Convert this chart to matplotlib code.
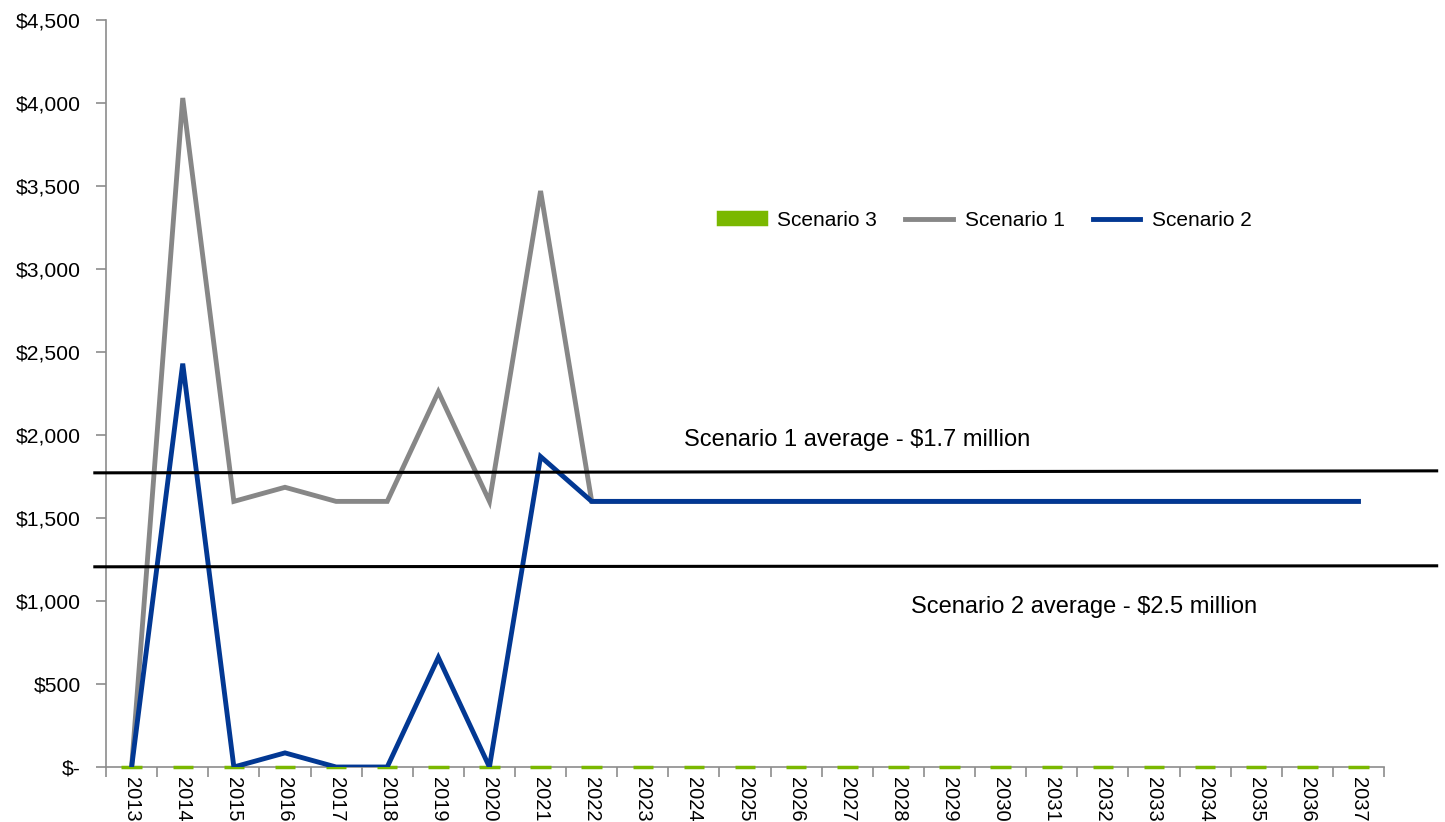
import matplotlib
matplotlib.use("Agg")
import matplotlib.pyplot as plt
import numpy as np
from matplotlib.ticker import FuncFormatter, FixedLocator

plt.rcParams['font.family'] = ['Liberation Sans', 'DejaVu Sans']

years = [str(y) for y in range(2013, 2038)]
scenario_1 = [0, 4030, 1600, 1685, 1600, 1600, 2260, 1600, 3470, 1600,
              1600, 1600, 1600, 1600, 1600, 1600, 1600, 1600, 1600, 1600,
              1600, 1600, 1600, 1600, 1600]
scenario_2 = [0, 2430, 0, 85, 0, 0, 660, 0, 1870, 1600,
              1600, 1600, 1600, 1600, 1600, 1600, 1600, 1600, 1600, 1600,
              1600, 1600, 1600, 1600, 1600]
scenario_3 = [0] * 25

# reference levels (left end, right end)
avg_1_level = [1772, 1784]
avg_2_level = [1206, 1212]
avg_1_label = "Scenario 1 average - $1.7 million"
avg_2_label = "Scenario 2 average - $2.5 million"

GREEN = "#7AB800"
GRAY = "#878787"
BLUE = "#023893"
AXIS = "#8C8C8C"

fig = plt.figure(figsize=(14.45, 8.22), dpi=100)
ax = fig.add_axes([0.0734, 0.0669, 0.9578 - 0.0734, 0.9757 - 0.0669])

x = np.arange(len(years))
bars = ax.bar(x, scenario_3, width=0.4, color=GREEN, edgecolor=GREEN,
              linewidth=2.5, label="Scenario 3", zorder=2.6, clip_on=False)
l1, = ax.plot(x, scenario_1, color=GRAY, lw=3.5, label="Scenario 1",
              zorder=3, solid_joinstyle='miter')
l2, = ax.plot(x, scenario_2, color=BLUE, lw=3.5, label="Scenario 2",
              zorder=4, solid_joinstyle='miter')

ax.set_xlim(-0.5, len(years) - 0.5)
ax.set_ylim(0, 4500)

# average lines reaching past the plot area
x_left, x_right = -0.72, 25.53
ax.plot([x_left, x_right], avg_1_level, color="black", lw=2.2,
        clip_on=False, zorder=5)
ax.plot([x_left, x_right], avg_2_level, color="black", lw=2.2,
        clip_on=False, zorder=5)
ax.text(10.8, 1970, avg_1_label, fontsize=17, ha='left', va='center')
ax.text(15.25, 965, avg_2_label, fontsize=17, ha='left', va='center')

ax.spines['top'].set_visible(False)
ax.spines['right'].set_visible(False)
for s in ('left', 'bottom'):
    ax.spines[s].set_color(AXIS)
    ax.spines[s].set_linewidth(1.2)

ax.yaxis.set_major_locator(FixedLocator(np.arange(0, 4501, 500)))
ax.yaxis.set_major_formatter(FuncFormatter(
    lambda v, p: "$-" if v == 0 else f"${v:,.0f}"))
ax.tick_params(axis='y', direction='out', length=7, color=AXIS, width=1.2,
               labelsize=15.2, pad=11)

ax.set_xticks(x)
ax.set_xticklabels(years, rotation=-90, fontsize=14.5)
ax.set_xticks(np.arange(-0.5, len(years), 1), minor=True)
ax.tick_params(axis='x', which='major', length=0, pad=7)
ax.tick_params(axis='x', which='minor', direction='out', length=7,
               color=AXIS, width=1.2)

ax.legend(handles=[bars, l1, l2], loc='center', bbox_to_anchor=(0.6815, 0.732),
          bbox_transform=fig.transFigure, ncol=3, frameon=False,
          fontsize=15, handlelength=2.3, handleheight=0.5,
          handletextpad=0.55, columnspacing=1.35)

fig.savefig("out.png", dpi=100)
